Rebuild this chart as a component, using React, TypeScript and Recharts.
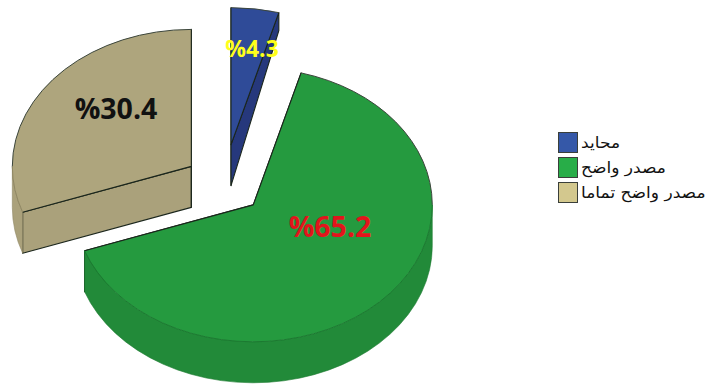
import { Legend, Pie, PieChart } from "recharts";

const categories = ["محايد", "مصدر واضح", "مصدر واضح تماما"];
const shares = [4.3, 65.2, 30.4];

const topColors = ["#2f4b98", "#259a3f", "#aea57d"];
const sideColors = ["#26387c", "#228a39", "#aaa17b"];
const rimColors = ["#1d2c66", "#1c7a31", "#8f8763"];
const swatchColors = ["#3558a8", "#28ad48", "#d3c88e"];
const labelColors = ["#ffff1a", "#e3141c", "#111111"];

// how far each slice is pulled away from the pie centre
const explode = [52, 40, 40];
// extrusion of the cut face at the rim end (blue narrows towards the back)
const rimDrop = [18, 41, 41];
const labelOffsets = [
  [28, -136],
  [106, 42],
  [-108, -76],
];

const SQUASH = 0.765;
const DEPTH = 41;
const EDGE = "#1b261c";

const rows = categories.map((name, i) => ({
  name,
  value: shares[i],
  fill: topColors[i],
}));

const rad = (deg: number) => (deg * Math.PI) / 180;

function Slice3D(props: any) {
  const { cx, cy, outerRadius: r, startAngle, endAngle, name } = props;
  const i = categories.indexOf(name);
  const mid = (startAngle + endAngle) / 2;
  const ox = cx + explode[i] * Math.cos(rad(mid));
  const oy = cy - explode[i] * SQUASH * Math.sin(rad(mid));
  const ry = r * SQUASH;
  const pt = (a: number) => [
    ox + r * Math.cos(rad(a)),
    oy - ry * Math.sin(rad(a)),
  ];
  const arc = (a0: number, a1: number) => {
    const [x, y] = pt(a1);
    return `A${r},${ry} 0 ${Math.abs(a0 - a1) > 180 ? 1 : 0} 1 ${x},${y}`;
  };
  const [sx, sy] = pt(startAngle);
  const [ex, ey] = pt(endAngle);
  const top = `M${ox},${oy} L${sx},${sy} ${arc(startAngle, endAngle)} Z`;

  const cut = (x: number, y: number) =>
    `M${ox},${oy} L${x},${y} L${x},${y + rimDrop[i]} L${ox},${oy + DEPTH} Z`;

  // split the rim at 0 and -180: below that line it is the front of the slab
  const stops = [startAngle, 0, -180, endAngle]
    .filter((a) => a <= startAngle && a >= endAngle)
    .sort((a, b) => b - a);
  const pieces = stops.slice(0, -1).map((a0, k) => {
    const a1 = stops[k + 1];
    const [x0, y0] = pt(a0);
    const [x1, y1] = pt(a1);
    const front = (a0 + a1) / 2 < 0 && (a0 + a1) / 2 > -180;
    return {
      front,
      line: `M${x0},${y0} ${arc(a0, a1)}`,
      wall: `M${x0},${y0} ${arc(a0, a1)} L${x1},${y1 + DEPTH} A${r},${ry} 0 0 0 ${x0},${y0 + DEPTH} Z`,
    };
  });

  const side = sideColors[i];
  return (
    <g strokeLinejoin="round" fill="none">
      <path d={cut(sx, sy)} fill={side} stroke={EDGE} strokeWidth={1.1} />
      <path d={cut(ex, ey)} fill={side} stroke={EDGE} strokeWidth={1.1} />
      {pieces
        .filter((p) => p.front)
        .map((p) => (
          <path key={p.wall} d={p.wall} fill={side} stroke={rimColors[i]} strokeWidth={0.6} />
        ))}
      <path d={top} fill={topColors[i]} />
      <path d={`M${sx},${sy} L${ox},${oy} L${ex},${ey}`} stroke={EDGE} strokeWidth={1.1} />
      {pieces.map((p) => (
        <path
          key={p.line}
          d={p.line}
          stroke={p.front ? rimColors[i] : "#3c463c"}
          strokeWidth={1}
        />
      ))}
    </g>
  );
}

function renderShare(props: any) {
  const { cx, cy, name, value } = props;
  const i = categories.indexOf(name);
  return (
    <text
      x={cx + labelOffsets[i][0]}
      y={cy + labelOffsets[i][1]}
      fill={labelColors[i]}
      textAnchor="middle"
      dominantBaseline="central"
      direction="ltr"
      fontFamily="'Open Sans', sans-serif"
      fontWeight={700}
      fontSize={i === 0 ? 23 : 28.5}
    >
      {`%${value}`}
    </text>
  );
}

function LegendBox({ payload }: any) {
  return (
    <div>
      {(payload ?? []).map((entry: any, i: number) => (
        <div
          key={entry.value}
          style={{ display: "flex", alignItems: "center", height: 25 }}
        >
          <span
            style={{
              width: 20,
              height: 21,
              boxSizing: "border-box",
              background: swatchColors[i],
              border: "1px solid #3a3f3a",
              marginRight: 3,
            }}
          />
          <span
            style={{
              fontFamily: "'DejaVu Sans', sans-serif",
              fontSize: 15.5,
              color: "#111",
              whiteSpace: "nowrap",
              transform: "scaleX(1.1)",
              transformOrigin: "left center",
            }}
          >
            {entry.value}
          </span>
        </div>
      ))}
    </div>
  );
}

export default function App() {
  return (
    <div style={{ position: "absolute", left: 0, top: 0, width: 708, height: 385, overflow: "hidden" }}>
      <PieChart width={708} height={385} margin={{ top: 0, right: 0, bottom: 0, left: 0 }}>
        <Pie
          data={rows}
          dataKey="value"
          nameKey="name"
          cx={224}
          cy={184}
          outerRadius={179}
          startAngle={90}
          endAngle={-270}
          stroke="none"
          shape={Slice3D}
          label={renderShare}
          labelLine={false}
          isAnimationActive={false}
        />
        <Legend
          content={LegendBox}
          layout="vertical"
          align="right"
          verticalAlign="top"
          wrapperStyle={{ left: 558, top: 130, width: 150, right: "auto" }}
        />
      </PieChart>
    </div>
  );
}
